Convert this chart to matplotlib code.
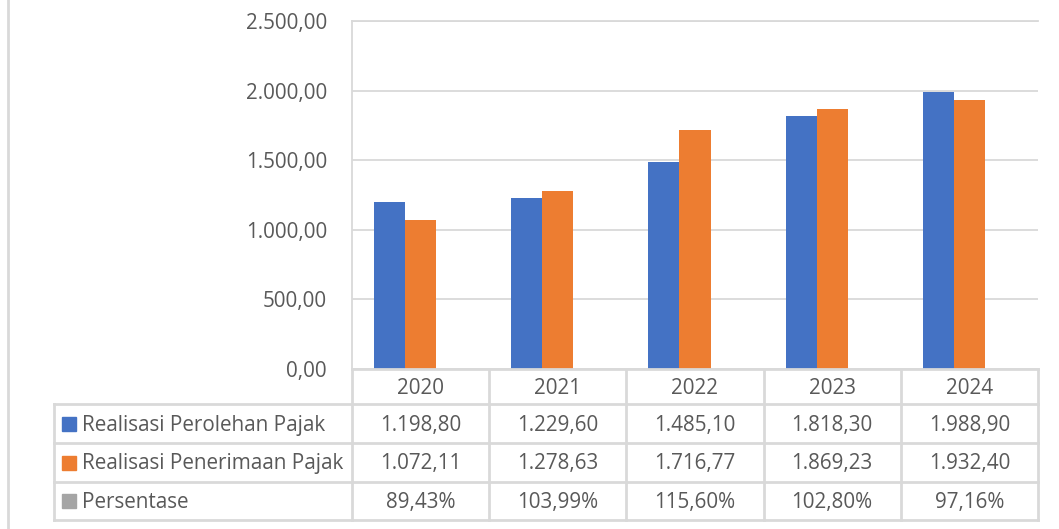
import numpy as np
import matplotlib.pyplot as plt

plt.rcParams['font.family'] = ['Open Sans', 'DejaVu Sans']

years = ['2020', '2021', '2022', '2023', '2024']
perolehan = [1198.80, 1229.60, 1485.10, 1818.30, 1988.90]
penerimaan = [1072.11, 1278.63, 1716.77, 1869.23, 1932.40]
persentase = [0.8943, 1.0399, 1.1560, 1.0280, 0.9716]

perolehan_txt = ['1.198,80', '1.229,60', '1.485,10', '1.818,30', '1.988,90']
penerimaan_txt = ['1.072,11', '1.278,63', '1.716,77', '1.869,23', '1.932,40']
persentase_txt = ['89,43%', '103,99%', '115,60%', '102,80%', '97,16%']

series_names = ['Realisasi Perolehan Pajak', 'Realisasi Penerimaan Pajak', 'Persentase']
colors = ['#4472C4', '#ED7D31', '#A5A5A5']
yticks = [0, 500, 1000, 1500, 2000, 2500]
ytick_txt = ['0,00', '500,00', '1.000,00', '1.500,00', '2.000,00', '2.500,00']

W, H = 1059, 529
txt_col = '#595959'
grid_col = '#D9D9D9'
fs = 14.9

fig = plt.figure(figsize=(W / 100, H / 100), dpi=100)

# pixel layout
px_left, px_right, px_top, px_zero = 352, 1038, 21, 369
tab_left = 54
row_edges = [369, 404, 443, 482, 520]

ax = fig.add_axes([px_left / W, 1 - px_zero / H, (px_right - px_left) / W, (px_zero - px_top) / H])
x = np.arange(len(years)) + 0.5
bw = 0.226
ax.bar(x - bw, perolehan, bw, color=colors[0], zorder=3)
ax.bar(x, penerimaan, bw, color=colors[1], zorder=3)
ax.bar(x + bw, persentase, bw, color=colors[2], zorder=3)
ax.set_xlim(0, len(years))
ax.set_ylim(0, 2500)
ax.set_yticks(yticks)
ax.set_yticklabels(ytick_txt, fontsize=fs, color=txt_col)
ax.tick_params(axis='y', length=0, pad=18)
ax.set_xticks([])
ax.grid(axis='y', color=grid_col, linewidth=1.3, zorder=0)
for s in ['right', 'bottom']:
    ax.spines[s].set_visible(False)
ax.spines['top'].set_color(grid_col)
ax.spines['top'].set_linewidth(1.3)
ax.spines['left'].set_color(grid_col)
ax.spines['left'].set_linewidth(1.3)

# data table overlay in pixel coordinates
tx = fig.add_axes([0, 0, 1, 1], facecolor='none')
tx.set_xlim(0, W)
tx.set_ylim(H, 0)
tx.axis('off')

col_w = (px_right - px_left) / len(years)
col_edges = [px_left + i * col_w for i in range(len(years) + 1)]
lw = 2

# horizontal lines
tx.plot([px_left, px_right], [row_edges[0]] * 2, color=grid_col, lw=lw)
for r in row_edges[1:]:
    tx.plot([tab_left, px_right], [r, r], color=grid_col, lw=lw)
# vertical lines
for c in col_edges:
    tx.plot([c, c], [row_edges[0], row_edges[-1]], color=grid_col, lw=lw)
tx.plot([tab_left, tab_left], [row_edges[1], row_edges[-1]], color=grid_col, lw=lw)
# outer chart border on the left
tx.plot([8, 8], [0, H], color=grid_col, lw=lw)

centers = [(col_edges[i] + col_edges[i + 1]) / 2 for i in range(len(years))]
row_c = [(row_edges[i] + row_edges[i + 1]) / 2 + 1.5 for i in range(len(row_edges) - 1)]

for cx, yr in zip(centers, years):
    tx.text(cx, row_c[0], yr, ha='center', va='center', fontsize=fs, color=txt_col)

rows = [perolehan_txt, penerimaan_txt, persentase_txt]
for ri, (name, col, vals) in enumerate(zip(series_names, colors, rows)):
    yc = row_c[ri + 1]
    tx.add_patch(plt.Rectangle((62, yc - 8.5), 14, 14, color=col))
    tx.text(82, yc, name, ha='left', va='center', fontsize=fs, color=txt_col)
    for cx, v in zip(centers, vals):
        tx.text(cx, yc, v, ha='center', va='center', fontsize=fs, color=txt_col)

fig.savefig('out.png', dpi=100)
